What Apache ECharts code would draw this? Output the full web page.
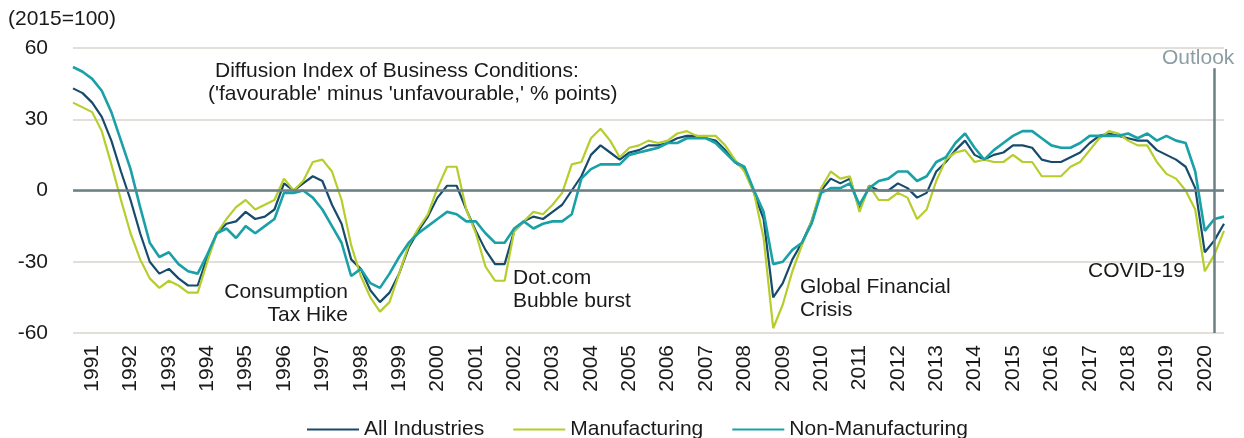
<!DOCTYPE html>
<html>
<head>
<meta charset="utf-8">
<script src="https://cdn.jsdelivr.net/npm/echarts@6/dist/echarts.min.js"></script>
<style>
html,body{margin:0;padding:0;background:#fff;}
#main{width:1244px;height:438px;}
</style>
</head>
<body>
<div id="main"></div>
<script>
// quarterly, first point = 1990 Q4, last point = 2020 Q4 (outlook)
var years = [1991,1992,1993,1994,1995,1996,1997,1998,1999,2000,2001,2002,2003,2004,2005,
	2006,2007,2008,2009,2010,2011,2012,2013,2014,2015,2016,2017,2018,2019,2020];
var lastActual = '2020Q3';

var allIndustries = [43,41,37,31,21,8,-4,-18,-30,-35,-33,-37,-40,-40,-28,-18,-14,-13,-9,-12,
	-11,-8,3,0,3,6,4,-6,-14,-29,-33,-42,-47,-43,-35,-24,-17,-11,-3,2,
	2,-8,-17,-25,-31,-31,-17,-13,-11,-12,-9,-6,0,6,15,19,16,13,16,17,
	19,19,20,22,23,23,22,21,17,12,9,-1,-12,-45,-39,-29,-22,-13,0,5,
	3,5,-8,2,0,0,3,1,-3,-1,8,12,17,21,15,13,15,16,19,19,
	18,13,12,12,14,16,20,23,24,23,22,21,21,17,15,13,10,1,-26,-21,-14];

var manufacturing = [37,35,33,25,11,-4,-18,-29,-37,-41,-38,-40,-43,-43,-30,-18,-12,-7,-4,-8,
	-6,-4,5,0,4,12,13,8,-4,-23,-36,-45,-51,-47,-35,-23,-16,-10,1,10,
	10,-8,-18,-32,-38,-38,-17,-13,-9,-10,-6,-1,11,12,22,26,21,14,18,19,
	21,20,21,24,25,23,23,23,19,13,8,-1,-20,-58,-48,-34,-23,-13,1,8,
	5,6,-9,2,-4,-4,-1,-3,-12,-8,4,13,16,17,12,13,12,12,15,12,
	12,6,6,6,10,12,17,22,25,24,21,19,19,12,7,5,0,-8,-34,-27,-17];

var nonManufacturing = [52,50,47,42,33,21,9,-7,-22,-28,-26,-31,-34,-35,-27,-18,-16,-20,-15,-18,
	-15,-12,-1,-1,0,-3,-8,-15,-22,-36,-33,-39,-41,-35,-28,-22,-18,-15,-12,-9,
	-10,-13,-13,-18,-22,-22,-16,-13,-16,-14,-13,-13,-10,5,9,11,11,11,15,16,
	17,18,20,20,22,22,22,20,16,12,10,0,-9,-31,-30,-25,-22,-14,-1,1,
	1,3,-6,1,4,5,8,8,4,6,12,14,20,24,18,13,17,20,23,25,
	25,22,19,18,18,20,23,23,23,23,24,22,24,21,23,21,20,8,-17,-12,-11];

var categories = ['1990Q4'];
for (var y = 1991; y <= 2020; y++) {
	for (var q = 1; q <= 4; q++) {
		categories.push(y + 'Q' + q);
	}
}

var fontName = '"Liberation Sans", Arial, sans-serif';
var txt = '#1a1a1a';
var f21 = '21px ' + fontName;

var myChart = echarts.init(document.getElementById('main'));
option = {
	animation: false,
	textStyle: {fontFamily: fontName},
	grid: {left: 73, right: 20, top: 48, bottom: 105},
	legend: {
		top: 414,
		left: 302,
		icon: 'rect',
		itemWidth: 52,
		itemHeight: 2,
		itemGap: 29,
		textStyle: {fontSize: 21, color: txt, fontFamily: fontName},
		data: ['All Industries', 'Manufacturing', 'Non-Manufacturing']
	},
	xAxis: {
		type: 'category',
		boundaryGap: false,
		data: categories,
		axisLine: {show: false},
		axisTick: {show: false},
		splitLine: {show: false},
		axisLabel: {
			rotate: 90,
			margin: 12,
			fontSize: 21,
			color: txt,
			interval: function (idx, val) {
				return val.slice(5) === '2' && years.indexOf(+val.slice(0, 4)) > -1;
			},
			formatter: function (val) {
				return val.slice(0, 4);
			}
		}
	},
	yAxis: {
		type: 'value',
		min: -60,
		max: 60,
		interval: 30,
		axisLine: {show: false},
		axisTick: {show: false},
		axisLabel: {fontSize: 21, color: txt, margin: 25},
		splitLine: {lineStyle: {color: '#d9d5cf', width: 1.5}}
	},
	series: [
		{
			name: 'All Industries',
			type: 'line',
			data: allIndustries,
			showSymbol: false,
			itemStyle: {color: '#174b6c'},
			lineStyle: {color: '#174b6c', width: 2.2},
			markLine: {
				silent: true,
				symbol: 'none',
				label: {show: false},
				lineStyle: {color: '#6c7f85', width: 2.5, type: 'solid'},
				data: [
					{yAxis: 0},
					// outlook separator
					[{coord: [lastActual, 51.5]}, {coord: [lastActual, -60]}]
				]
			}
		},
		{
			name: 'Manufacturing',
			type: 'line',
			data: manufacturing,
			showSymbol: false,
			itemStyle: {color: '#b7cd2c'},
			lineStyle: {color: '#b7cd2c', width: 2.2}
		},
		{
			name: 'Non-Manufacturing',
			type: 'line',
			data: nonManufacturing,
			showSymbol: false,
			itemStyle: {color: '#1aa1a7'},
			lineStyle: {color: '#1aa1a7', width: 2.6}
		}
	],
	graphic: [
		{type: 'text', x: 8, y: 9, style: {text: '(2015=100)', font: f21, fill: txt}},
		{type: 'text', x: 215, y: 61, style: {text: 'Diffusion Index of Business Conditions:', font: f21, fill: txt}},
		{type: 'text', x: 208, y: 84, style: {text: "('favourable' minus 'unfavourable,' % points)", font: f21, fill: txt}},
		{type: 'text', x: 348, y: 281, style: {text: 'Consumption\nTax Hike', font: f21, fill: txt, align: 'right', lineHeight: 23}},
		{type: 'text', x: 513, y: 267, style: {text: 'Dot.com\nBubble burst', font: f21, fill: txt, lineHeight: 23}},
		{type: 'text', x: 800, y: 276, style: {text: 'Global Financial\nCrisis', font: f21, fill: txt, lineHeight: 23}},
		{type: 'text', x: 1088, y: 261, style: {text: 'COVID-19', font: f21, fill: txt}},
		{type: 'text', x: 1162, y: 48, style: {text: 'Outlook', font: f21, fill: '#8c9ea3'}}
	]
};

myChart.setOption(option);
</script>
</body>
</html>
